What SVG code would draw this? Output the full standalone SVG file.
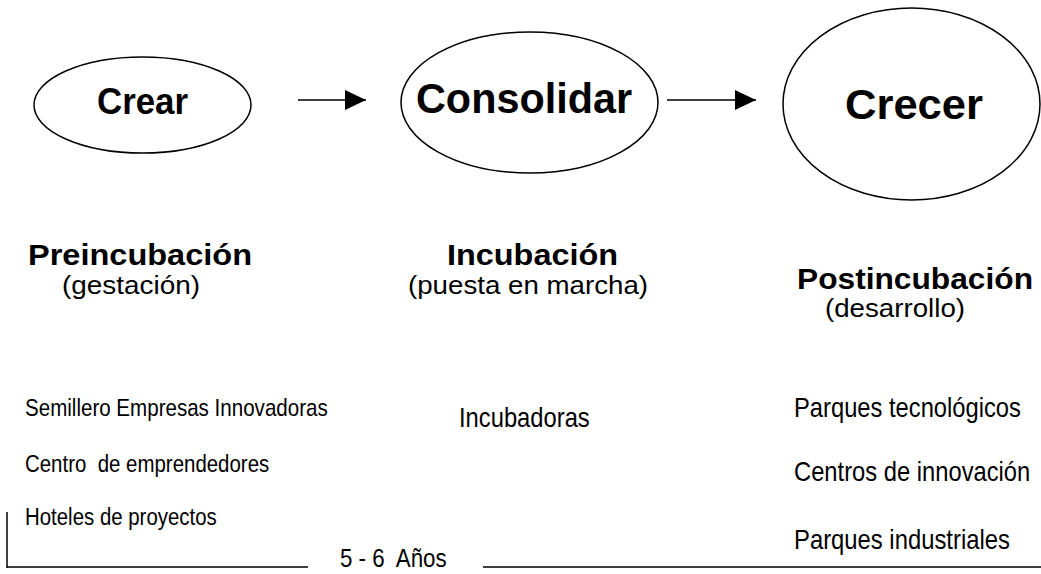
<svg xmlns="http://www.w3.org/2000/svg" width="1041" height="574" viewBox="0 0 1041 574">
<style>
.shape{fill:none;stroke:#000;stroke-width:1.5}
.ln{stroke:#000;stroke-width:1.5;fill:none}
.t{font-family:"Liberation Sans",Arial,sans-serif;fill:#000}
.b{font-weight:bold}
</style>
<defs>
<marker id="ah" markerUnits="userSpaceOnUse" markerWidth="22" markerHeight="20" refX="21" refY="10" orient="auto">
<path d="M0,0 L21,10 L0,20 Z" fill="#000"/>
</marker>
</defs>
<rect width="1041" height="574" fill="#fff"/>
<g id="connectors">
<line class="ln" x1="298" y1="100" x2="366" y2="100" marker-end="url(#ah)"/>
<line class="ln" x1="667" y1="100" x2="756" y2="100" marker-end="url(#ah)"/>
</g>
<g id="crear">
<ellipse class="shape" cx="142.5" cy="105" rx="108.5" ry="48"/>
<text class="t b" x="97" y="114" font-size="36" textLength="91" lengthAdjust="spacingAndGlyphs">Crear</text>
</g>
<g id="consolidar">
<ellipse class="shape" cx="529.5" cy="102.5" rx="128.5" ry="70.5"/>
<text class="t b" x="416" y="113" font-size="42" textLength="216" lengthAdjust="spacingAndGlyphs">Consolidar</text>
</g>
<g id="crecer">
<ellipse class="shape" cx="911.5" cy="104" rx="128.5" ry="96"/>
<text class="t b" x="845" y="119" font-size="43" textLength="138" lengthAdjust="spacingAndGlyphs">Crecer</text>
</g>
<g id="preincubacion">
<text class="t b" x="28" y="265" font-size="30" textLength="224" lengthAdjust="spacingAndGlyphs">Preincubación</text>
<text class="t" x="62" y="294" font-size="26" textLength="138" lengthAdjust="spacingAndGlyphs">(gestación)</text>
<text class="t" transform="translate(25,416) scale(0.86,1)" font-size="24" textLength="352" lengthAdjust="spacingAndGlyphs">Semillero Empresas Innovadoras</text>
<text class="t" transform="translate(25,472) scale(0.86,1)" font-size="24" textLength="284" lengthAdjust="spacingAndGlyphs" xml:space="preserve">Centro  de emprendedores</text>
<text class="t" transform="translate(25,525) scale(0.86,1)" font-size="24" textLength="223" lengthAdjust="spacingAndGlyphs">Hoteles de proyectos</text>
</g>
<g id="incubacion">
<text class="t b" x="447" y="265" font-size="30" textLength="171" lengthAdjust="spacingAndGlyphs">Incubación</text>
<text class="t" x="408" y="294" font-size="26" textLength="240" lengthAdjust="spacingAndGlyphs">(puesta en marcha)</text>
<text class="t" transform="translate(459,427) scale(0.86,1)" font-size="27" textLength="152" lengthAdjust="spacingAndGlyphs">Incubadoras</text>
</g>
<g id="postincubacion">
<text class="t b" x="797" y="289" font-size="30" textLength="236" lengthAdjust="spacingAndGlyphs">Postincubación</text>
<text class="t" x="825" y="317" font-size="25" textLength="140" lengthAdjust="spacingAndGlyphs">(desarrollo)</text>
<text class="t" transform="translate(794,417) scale(0.85,1)" font-size="28" textLength="267" lengthAdjust="spacingAndGlyphs">Parques tecnológicos</text>
<text class="t" transform="translate(794,481) scale(0.85,1)" font-size="28" textLength="278" lengthAdjust="spacingAndGlyphs">Centros de innovación</text>
<text class="t" transform="translate(794,549) scale(0.85,1)" font-size="28" textLength="254" lengthAdjust="spacingAndGlyphs">Parques industriales</text>
</g>
<g id="timeline">
<line class="ln" x1="7" y1="512" x2="7" y2="568"/>
<line class="ln" x1="7" y1="567" x2="308" y2="567"/>
<line class="ln" x1="483" y1="567" x2="1041" y2="567"/>
<text class="t" transform="translate(340,567) scale(0.86,1)" font-size="26" textLength="124" lengthAdjust="spacingAndGlyphs" xml:space="preserve">5 - 6  Años</text>
</g>
</svg>
